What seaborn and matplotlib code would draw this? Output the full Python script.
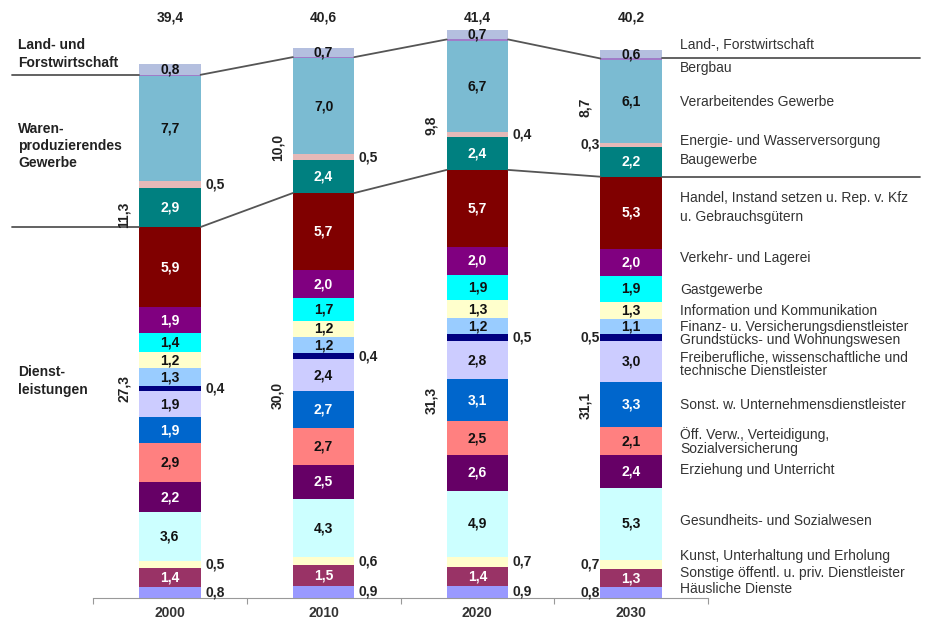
import numpy as np
import pandas as pd
import seaborn as sns
import matplotlib.pyplot as plt

sns.set_style("white")
plt.rcParams['font.family'] = ['Liberation Sans', 'DejaVu Sans']

years = ["2000", "2010", "2020", "2030"]

# Erwerbstätige in Mio., Branchen von oben nach unten
land = [0.8, 0.7, 0.7, 0.6]
bergbau = [0.1, 0.1, 0.1, 0.1]
verarbeitend = [7.7, 7.0, 6.7, 6.1]
energie = [0.5, 0.5, 0.4, 0.3]
bau = [2.9, 2.4, 2.4, 2.2]
handel = [5.9, 5.7, 5.7, 5.3]
verkehr = [1.9, 2.0, 2.0, 2.0]
gast = [1.4, 1.7, 1.9, 1.9]
info = [1.2, 1.2, 1.3, 1.3]
finanz = [1.3, 1.2, 1.2, 1.1]
grundstueck = [0.4, 0.4, 0.5, 0.5]
freiberuf = [1.9, 2.4, 2.8, 3.0]
unternehmen = [1.9, 2.7, 3.1, 3.3]
oeffentlich = [2.9, 2.7, 2.5, 2.1]
erziehung = [2.2, 2.5, 2.6, 2.4]
gesundheit = [3.6, 4.3, 4.9, 5.3]
kunst = [0.5, 0.6, 0.7, 0.7]
sonstige = [1.4, 1.5, 1.4, 1.3]
haeuslich = [0.8, 0.9, 0.9, 0.8]

totals = [39.4, 40.6, 41.4, 40.2]
waren_sum = [11.3, 10.0, 9.8, 8.7]
dienst_sum = [27.3, 30.0, 31.3, 31.1]

branchen = ["Land-, Forstwirtschaft", "Bergbau", "Verarbeitendes Gewerbe",
            "Energie- und Wasserversorgung", "Baugewerbe", "Handel",
            "Verkehr- und Lagerei", "Gastgewerbe", "Information und Kommunikation",
            "Finanz", "Grundstücks", "Freiberufliche", "Sonst. Unternehmen",
            "Öff. Verw.", "Erziehung", "Gesundheit", "Kunst", "Sonstige", "Häusliche"]
werte = [land, bergbau, verarbeitend, energie, bau, handel, verkehr, gast, info,
         finanz, grundstueck, freiberuf, unternehmen, oeffentlich, erziehung,
         gesundheit, kunst, sonstige, haeuslich]
farben = ["#B4BFDF", "#A07CC8", "#7BBBD2", "#E6B9B8", "#008080", "#800000",
          "#800080", "#00FFFF", "#FFFFCC", "#99CCFF", "#000080", "#CCCCFF",
          "#0066CC", "#FF8080", "#660066", "#CCFFFF", "#FFFFCC", "#993366", "#9999FF"]
weiss = {"Baugewerbe", "Handel", "Verkehr- und Lagerei", "Sonst. Unternehmen",
         "Erziehung", "Sonstige"}
aussen = {"Energie- und Wasserversorgung", "Grundstücks", "Kunst", "Häusliche"}

rechts_labels = [
    ("Land-, Forstwirtschaft", 45), ("Bergbau", 68), ("Verarbeitendes Gewerbe", 102),
    ("Energie- und Wasserversorgung", 141), ("Baugewerbe", 160),
    ("Handel, Instand setzen u. Rep. v. Kfz", 198), ("u. Gebrauchsgütern", 217),
    ("Verkehr- und Lagerei", 258), ("Gastgewerbe", 290),
    ("Information und Kommunikation", 311),
    ("Finanz- u. Versicherungsdienstleister", 327),
    ("Grundstücks- und Wohnungswesen", 340),
    ("Freiberufliche, wissenschaftliche und", 358), ("technische Dienstleister", 371),
    ("Sonst. w. Unternehmensdienstleister", 405),
    ("Öff. Verw., Verteidigung,", 435), ("Sozialversicherung", 449),
    ("Erziehung und Unterricht", 470), ("Gesundheits- und Sozialwesen", 521),
    ("Kunst, Unterhaltung und Erholung", 556),
    ("Sonstige öffentl. u. priv. Dienstleister", 573), ("Häusliche Dienste", 589),
]

df = pd.DataFrame([(i, b, w[i]) for b, w in zip(branchen, werte) for i in range(4)],
                  columns=["pos", "branche", "wert"])

fig = plt.figure(figsize=(9.31, 6.25), dpi=100)
ax = fig.add_axes([93 / 931, 27 / 625, 615 / 931, 598 / 625])
sns.histplot(data=df, x="pos", weights="wert", hue="branche", hue_order=branchen,
             multiple="stack", discrete=True, shrink=0.4, palette=dict(zip(branchen, farben)),
             alpha=1, linewidth=0, legend=False, ax=ax)

ax.set_xlim(-0.5, 3.5)
ax.set_ylim(0, 598 / 13.59)
ax.set_xlabel("")
ax.set_ylabel("")
ax.set_yticks([])
for s in ["top", "right", "left"]:
    ax.spines[s].set_visible(False)
ax.spines["bottom"].set_color("#999999")
ax.set_xticks([-0.5, 0.5, 1.5, 2.5, 3.5])
ax.set_xticklabels([])
ax.tick_params(axis="x", which="major", length=4, color="#999999", direction="out", bottom=True)
ax.set_xticks(range(4), minor=True)
ax.set_xticklabels(years, minor=True, fontsize=10, fontweight="bold", color="#333333")
ax.tick_params(axis="x", which="minor", length=0, pad=6)


def py(p):
    # Pixelzeile -> Datenwert
    return (598 - p) / 13.59


fmt = lambda v: f"{v:.1f}".replace(".", ",")

mat = np.array(werte[::-1])  # von unten nach oben
names = branchen[::-1]
cum = np.cumsum(mat, axis=0)
bottoms = cum - mat
hw = 0.2
for k, name in enumerate(names):
    if name == "Bergbau":
        continue
    for i in range(4):
        yc = bottoms[k, i] + mat[k, i] / 2
        txt = fmt(mat[k, i])
        if name in aussen:
            if i < 3:
                ax.text(i + hw + 0.03, yc, txt, ha="left", va="center", fontsize=10,
                        fontweight="bold", color="#222222")
            else:
                ax.text(i - hw - 0.005, yc, txt, ha="right", va="center", fontsize=10,
                        fontweight="bold", color="#222222")
        else:
            ax.text(i, yc, txt, ha="center", va="center", fontsize=10, fontweight="bold",
                    color="white" if name in weiss else "#111111")

# Grenzen der Sektoren
n_dienst = 14
dienst_top = cum[n_dienst - 1]
waren_top = cum[n_dienst + 3]
linie = dict(color="#555555", lw=1.3, clip_on=False)
for h in [waren_top, dienst_top]:
    ax.plot([-1.03, -hw], [h[0], h[0]], **linie)
    for i in range(3):
        ax.plot([i + hw, i + 1 - hw], [h[i], h[i + 1]], **linie)
    ax.plot([3 + hw, 4.88], [h[3], h[3]], **linie)

for i in range(4):
    ax.text(i, py(18), fmt(totals[i]), ha="center", va="center", fontsize=10,
            fontweight="bold", color="#222222")

waren_y = [215, 147, 125, 107]
dienst_y = [388, 395, 400, 405]
for i in range(4):
    ax.text(i - hw - 0.1, py(waren_y[i]), fmt(waren_sum[i]), rotation=90, ha="center",
            va="center", fontsize=10, fontweight="bold", color="#222222")
    ax.text(i - hw - 0.1, py(dienst_y[i]), fmt(dienst_sum[i]), rotation=90, ha="center",
            va="center", fontsize=10, fontweight="bold", color="#222222")

for txt, p in rechts_labels:
    fig.text(680 / 931, 1 - p / 625, txt, ha="left", va="center", fontsize=10,
             color="#333333")

for txt, p in [("Land- und\nForstwirtschaft", 54),
               ("Waren-\nproduzierendes\nGewerbe", 146),
               ("Dienst-\nleistungen", 381)]:
    fig.text(18 / 931, 1 - p / 625, txt, ha="left", va="center", fontsize=10,
             fontweight="bold", color="#222222", linespacing=1.3)

plt.savefig("out.png", dpi=100)
plt.close()
